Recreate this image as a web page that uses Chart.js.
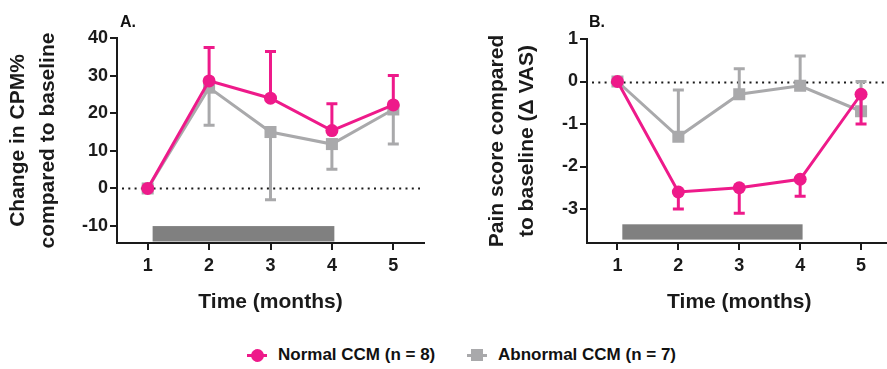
<!DOCTYPE html>
<html>
<head>
<meta charset="utf-8">
<script src="https://cdn.jsdelivr.net/npm/chart.js@4.4.1/dist/chart.umd.min.js"></script>
<style>
  html, body { margin: 0; padding: 0; background: #fff; overflow: hidden; }
  body { width: 887px; height: 369px; position: relative; font-family: "Liberation Sans", Arial, sans-serif; color: #111; }
  #wrapA { position: absolute; left: 0; top: 0; width: 440px; height: 320px; }
  #wrapB { position: absolute; left: 440px; top: 0; width: 460px; height: 320px; }
  .panel-tag { position: absolute; top: 13px; font-weight: bold; font-size: 16px; }
  .item { position: absolute; top: 345px; height: 20px; display: flex; align-items: center; font-weight: bold; font-size: 17px; white-space: nowrap; }
  .mk { position: relative; width: 22px; height: 20px; margin-right: 10px; }
  .mk::before { content: ''; position: absolute; left: 1px; top: 8.5px; width: 20px; height: 3px; background: var(--c); }
  .mk::after { content: ''; position: absolute; left: 4.5px; top: 3.5px; width: 13px; height: 13px; background: var(--c); }
  .mk.circle::after { border-radius: 50%; }
  .mk.square::after { left: 5px; top: 4px; width: 12px; height: 12px; }
</style>
</head>
<body>
<div id="wrapA"><canvas id="chartA"></canvas></div>
<div id="wrapB"><canvas id="chartB"></canvas></div>
<div class="panel-tag" style="left:120px">A.</div>
<div class="panel-tag" style="left:589px">B.</div>
<div class="item" style="left:246px"><span class="mk circle" style="--c:#ee1a8a"></span>Normal CCM (n = 8)</div>
<div class="item" style="left:466px"><span class="mk square" style="--c:#a9a9ab"></span>Abnormal CCM (n = 7)</div>
<script>
// Data
const months = [1, 2, 3, 4, 5];

// A. change in CPM%
const cpmNormal = [0, 28.6, 24, 15.4, 22.2];
const cpmNormalErr = [null, 37.5, 36.4, 22.5, 30];      // upper whisker
const cpmAbnormal = [0, 26.8, 15, 11.8, 21];
const cpmAbnormalErr = [null, 16.8, -3, 5.1, 11.8];     // lower whisker
const cpmTicks = [-10, 0, 10, 20, 30, 40];

// B. pain score (delta VAS)
const vasNormal = [0, -2.6, -2.5, -2.3, -0.3];
const vasNormalErr = [null, -3.0, -3.1, -2.7, -1.0];    // lower whisker
const vasAbnormal = [0, -1.3, -0.3, -0.1, -0.7];
const vasAbnormalErr = [null, -0.2, 0.3, 0.6, 0.0];     // upper whisker
const vasTicks = [-3, -2, -1, 0, 1];

// treatment period bar (months, and y band in each panel's units)
const treatMonths = [1.08, 4.04];
const treatBandA = [-10, -14.1];
const treatBandB = [-3.36, -3.72];

const PINK = '#ee1a8a';
const GREY = '#a9a9ab';
const INK = '#1a1a1a';
const FONT = '"Liberation Sans", Arial, sans-serif';

const pts = vals => months.map((m, i) => ({ x: m, y: vals[i] }));

// whiskers drawn right before their own dataset so stacking matches
const errorBars = {
  id: 'errorBars',
  beforeDatasetDraw(chart, args) {
    const ds = chart.data.datasets[args.index];
    if (!ds.errorTo) return;
    const { x, y } = chart.scales;
    const ctx = chart.ctx;
    ctx.save();
    ctx.strokeStyle = ds.borderColor;
    ctx.lineWidth = 3;
    ctx.lineCap = 'butt';
    ds.data.forEach((p, i) => {
      const tip = ds.errorTo[i];
      if (tip == null) return;
      const px = x.getPixelForValue(p.x);
      const y0 = y.getPixelForValue(p.y);
      const y1 = y.getPixelForValue(tip);
      ctx.beginPath();
      ctx.moveTo(px, y0); ctx.lineTo(px, y1);
      ctx.moveTo(px - 5.5, y1); ctx.lineTo(px + 5.5, y1);
      ctx.stroke();
    });
    ctx.restore();
  }
};

// dotted zero line + grey treatment bar
const backdrop = {
  id: 'backdrop',
  beforeDatasetsDraw(chart, args, opts) {
    const { x, y } = chart.scales;
    const { left, right } = chart.chartArea;
    const ctx = chart.ctx;
    ctx.save();
    ctx.fillStyle = '#808080';
    const bx0 = x.getPixelForValue(treatMonths[0]);
    const bx1 = x.getPixelForValue(treatMonths[1]);
    const by0 = y.getPixelForValue(opts.band[0]);
    const by1 = y.getPixelForValue(opts.band[1]);
    ctx.fillRect(bx0, by0, bx1 - bx0, by1 - by0);

    const y0 = Math.round(y.getPixelForValue(0)) + 0.5;
    ctx.strokeStyle = INK;
    ctx.lineWidth = 2;
    ctx.setLineDash([2, 4.3]);
    ctx.beginPath();
    ctx.moveTo(left + 5, y0); ctx.lineTo(right - 4, y0);
    ctx.stroke();
    ctx.restore();
  }
};

function makePanel(id, o) {
  const tickFont = { family: FONT, size: 18, weight: 'bold' };
  const titleFont = { family: FONT, size: 21, weight: 'bold', lineHeight: 1.4 };
  return new Chart(document.getElementById(id), {
    type: 'line',
    data: {
      datasets: [
        { label: 'Normal CCM (n = 8)', data: pts(o.normal), errorTo: o.normalErr,
          borderColor: PINK, backgroundColor: PINK, borderWidth: 3,
          pointStyle: 'circle', pointRadius: 6.5, pointHoverRadius: 6.5, pointBorderWidth: 0 },
        { label: 'Abnormal CCM (n = 7)', data: pts(o.abnormal), errorTo: o.abnormalErr,
          borderColor: GREY, backgroundColor: GREY, borderWidth: 3,
          pointStyle: 'rect', pointRadius: 8.5, pointHoverRadius: 8.5, pointBorderWidth: 0 }
      ]
    },
    plugins: [backdrop, errorBars],
    options: {
      responsive: true, maintainAspectRatio: false, animation: false, devicePixelRatio: 1,
      layout: { padding: { top: o.top, right: o.right, left: 0, bottom: 0 } },
      elements: { line: { tension: 0 } },
      plugins: { legend: { display: false }, tooltip: { enabled: false }, backdrop: { band: o.band } },
      scales: {
        x: {
          type: 'linear', min: 0.5, max: 5.5,
          afterBuildTicks: s => { s.ticks = months.map(v => ({ value: v })); },
          afterFit: s => { s.height = 77; },
          grid: { drawOnChartArea: false, drawTicks: true, tickLength: 7, color: INK, lineWidth: 2 },
          border: { display: true, color: INK, width: 2 },
          ticks: { padding: 5, color: INK, font: tickFont, maxRotation: 0 },
          title: { display: true, text: 'Time (months)', color: INK, font: titleFont, padding: { top: 0, bottom: 3 } }
        },
        y: {
          min: o.min, max: o.max,
          afterBuildTicks: s => { s.ticks = o.ticks.map(v => ({ value: v })); },
          afterFit: s => { s.width = o.yWidth; },
          grid: { drawOnChartArea: false, drawTicks: true, tickLength: 7, color: INK, lineWidth: 2 },
          border: { display: true, color: INK, width: 2 },
          ticks: { padding: 2, color: INK, font: tickFont },
          title: { display: true, text: o.title, color: INK, font: titleFont, padding: { top: o.titlePad, bottom: 0 } }
        }
      }
    }
  });
}

makePanel('chartA', {
  normal: cpmNormal, normalErr: cpmNormalErr, abnormal: cpmAbnormal, abnormalErr: cpmAbnormalErr,
  min: -14.5, max: 40, ticks: cpmTicks, band: treatBandA,
  title: ['Change in CPM%', 'compared to baseline'],
  top: 38, right: 16, yWidth: 117, titlePad: 4
});

makePanel('chartB', {
  normal: vasNormal, normalErr: vasNormalErr, abnormal: vasAbnormal, abnormalErr: vasAbnormalErr,
  min: -3.8, max: 1, ticks: vasTicks, band: treatBandB,
  title: ['Pain score compared', 'to baseline (\u0394 VAS)'],
  top: 39, right: 7, yWidth: 147, titlePad: 43
});
</script>
</body>
</html>
